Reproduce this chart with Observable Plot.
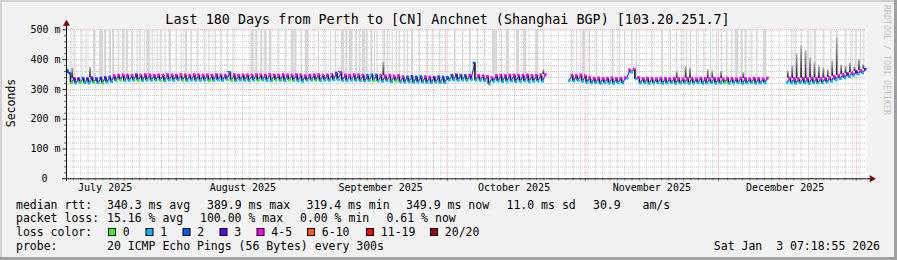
<!DOCTYPE html>
<html><head><meta charset="utf-8">
<script src="https://cdn.jsdelivr.net/npm/d3@7"></script>
<script src="https://cdn.jsdelivr.net/npm/@observablehq/plot@0.6"></script>
<style>
html,body{margin:0;padding:0;background:#f2f2f2;}
#chart{position:relative;width:897px;height:260px;}
svg text{white-space:pre;}
</style></head><body><div id="chart"></div>
<script>
// ---------------- data ----------------
const startTime = Date.UTC(2025, 6, 7, 7, 18, 55);
const endTime = Date.UTC(2026, 0, 3, 7, 18, 55);
const titleText = "Last 180 Days from Perth to [CN] Anchnet (Shanghai BGP) [103.20.251.7]";
const yTicks = [100, 200, 300, 400, 500];
const monthLabels = ["2025-07-16", "2025-08-16", "2025-09-16", "2025-10-16", "2025-11-16", "2025-12-16"];
const lossLabels = ["0", "1", "2", "3", "4-5", "6-10", "11-19", "20/20"];
const lossColors = ["#26ff00", "#00b8ff", "#0059ff", "#5e00ff", "#ff00ff", "#ff5e00", "#ff0000", "#a10000"];
const rttStats = ["340.3 ms avg", "389.9 ms max", "319.4 ms min", "349.9 ms now", "11.0 ms sd", "30.9", "am/s"];
const lossStats = ["15.16 % avg", "100.00 % max", "0.00 % min", "0.61 % now"];
const probeText = "20 ICMP Echo Pings (56 Bytes) every 300s";
const stampText = "Sat Jan  3 07:18:55 2026";

// median rtt per day (ms): value at start of day and at end of day
const dayLow = [
  362,322,321,323,322,321,323,322,321,324,
  326,330,331,329,330,331,330,329,331,330,
  331,330,329,331,330,332,330,329,331,330,
  330,331,329,330,331,330,333,330,329,331,
  330,329,331,330,332,330,329,331,330,329,
  331,330,329,327,330,331,330,329,331,330,
  332,333,330,329,331,330,329,328,330,329,
  328,327,329,326,328,325,324,325,323,324,
  324,323,322,324,323,322,331,332,330,331,
  330,333,331,330,329,318,327,328,326,327,
  328,326,327,328,326,327,328,327,null,null,
  null,null,null,329,328,330,327,323,321,322,
  320,322,321,320,322,321,338,358,335,321,
  322,320,321,322,320,321,322,320,321,322,
  320,321,322,320,321,322,320,321,322,320,
  321,322,320,321,322,320,321,322,null,null,
  null,null,322,321,320,322,321,320,322,321,
  322,324,327,332,336,338,343,347,351,355
];
const dayHigh = [
  354,337,336,338,336,339,337,338,340,342,
  346,348,349,348,347,349,348,350,349,348,
  349,348,350,349,348,350,349,348,350,349,
  348,349,348,350,349,348,357,350,348,349,
  349,348,350,349,348,350,349,348,350,349,
  348,350,349,346,348,349,350,348,349,350,
  355,357,349,348,350,349,348,347,349,348,
  347,346,348,345,347,343,342,344,342,343,
  343,342,341,343,342,341,348,349,348,347,
  348,389,347,346,344,340,347,348,347,348,
  348,347,348,349,347,348,349,350,null,null,
  null,null,null,348,347,349,346,340,338,339,
  337,338,339,337,338,339,366,368,340,337,
  338,337,336,338,337,336,338,337,336,338,
  337,336,338,337,336,338,337,336,338,337,
  336,338,337,336,338,337,336,338,null,null,
  null,null,338,337,336,338,337,339,338,337,
  338,340,344,347,350,353,356,360,364,368
];
// loss class (index into lossLabels) at the low and high point of each day
const lowLoss = [
  2,0,1,0,1,1,0,1,0,1, 1,1,0,1,1,1,0,1,1,1, 1,0,1,1,1,1,0,1,1,1,
  1,1,0,1,1,1,1,0,1,1, 1,1,1,0,1,1,1,0,1,1, 0,1,1,1,1,1,0,1,1,1,
  1,1,1,1,1,1,1,1,1,0, 1,1,1,1,0,1,1,1,1,1, 1,1,1,1,1,1,1,1,1,1,
  1,1,1,1,1,1,1,1,1,1, 1,1,1,1,1,1,1,1,1,1, 1,1,1,1,1,1,1,1,1,1,
  1,1,1,1,1,1,1,1,1,1, 1,1,1,1,1,1,1,1,1,1, 1,1,1,1,1,1,1,1,0,1,
  1,1,1,1,1,1,1,1,1,1, 1,1,1,1,1,1,1,1,1,1, 1,1,1,1,1,1,1,1,1,1
];
const highLoss = [
  2,3,3,2,3,3,2,3,3,2, 4,4,4,4,4,3,4,4,4,4, 4,4,4,4,4,4,4,4,4,4,
  4,4,4,4,4,4,2,4,4,4, 4,4,4,4,4,4,4,4,4,4, 4,4,4,4,4,4,4,4,4,4,
  2,4,4,4,4,4,4,2,2,2, 4,4,4,4,4,4,2,2,2,2, 4,4,3,2,2,2,2,3,2,2,
  4,2,4,4,4,4,4,4,4,4, 4,4,4,4,4,4,4,4,4,4, 4,4,4,4,4,4,4,4,4,4,
  4,4,4,4,4,4,4,4,4,4, 4,4,4,4,4,4,4,4,4,4, 4,4,4,4,4,4,4,4,4,4,
  4,4,4,4,4,4,4,4,4,4, 4,4,4,4,4,4,4,4,4,4, 4,4,4,4,4,3,4,3,4,3
];
// dark smoke tops (ms) on selected days
const smokeDay = [0,1,5,36,61,71,107,137,139,140,144,145,147,152,162,163,164,165,166,167,168,169,170,171,172,173,174,175,176,177,178,179];
const smokeTop = [368,371,374,360,362,391,366,360,377,372,366,362,360,356,362,378,419,446,430,405,390,377,372,366,394,472,381,377,388,375,400,383];
// light smoke reaching past 500 ms: day offset from start and duration (days)
const barDay = [
  1.1,2.0,3.6,4.5,6.3,7.9,8.8,9.9,10.6,11.9,12.8,13.7,14.9,16.0,16.7,17.6,18.5,19.4,20.5,21.2,
  22.3,23.4,24.8,25.9,27.0,28.2,29.5,31.1,32.2,33.6,34.9,36.3,37.6,
  41.9,42.8,43.9,44.8,45.9,47.7,49.3,50.9,51.6,52.9,54.1,
  56.8,58.3,59.5,60.6,
  62.2,63.1,64.0,65.3,66.0,66.9,67.6,68.7,69.4,70.0,71.6,72.3,73.4,74.3,75.0,76.1,76.8,77.9,79.5,81.3,82.4,84.0,85.4,
  87.4,89.2,90.8,92.6,94.1,96.2,96.8,98.0,99.3,101.6,103.2,105.9,107.4,
  113.7,114.9,116.4,117.8,119.4,120.7,123.0,124.5,125.7,127.3,128.4,131.8,134.2,136.0,137.4,138.5,139.6,140.5,141.9,143.5,145.0,146.4,147.5,148.6,149.8,150.9,152.0,152.9,154.3,155.4,157.2,
  163.3,164.2,165.5,166.9,167.6,168.5,170.5,172.1,173.4,175.5,176.6,177.7,178.8,179.5
];
const barSpan = [
  .25,.25,.25,.25,.45,.9,.45,.45,.45,.25,.45,.45,.45,.25,.25,.25,.7,.25,.25,.25,
  .25,.45,.25,.25,.45,.25,.25,.25,.25,.25,.25,.25,.25,
  .7,.45,.45,.7,.45,.25,.25,.7,.45,.25,.7,
  .25,.25,.25,.25,
  .7,.45,.7,.45,.25,.7,.45,.45,.25,.25,.45,.25,.25,.25,.25,.25,.25,.45,.25,.25,.25,.25,.25,
  .25,.25,.25,.25,.25,.7,.45,.25,.7,.7,.7,.7,.25,
  .25,.25,.7,.25,.25,.25,.45,.25,.25,.25,.25,.25,.25,.25,.25,.25,.25,.25,.25,.25,.25,.25,.25,.25,.25,.7,.45,.45,.25,.25,.7,
  .25,.25,.25,.25,.25,.45,.25,.25,.25,.25,.25,.25,.25,.25
];

// ---------------- derived ----------------
const dayMs = 86400000;
const xAt = d => new Date(startTime + d * dayMs);
const days = [];
for (let d = 0; d < dayLow.length; d++) {
  if (dayLow[d] == null) continue;
  days.push({d, low: dayLow[d], high: dayHigh[d], ll: lowLoss[d], hl: highLoss[d], next: dayLow[d + 1] ?? null});
}
const drops = days.filter(r => r.next != null);
const bars = barDay.map((d, i) => ({d, s: barSpan[i], bottom: (dayHigh[Math.floor(d)] ?? 345) + 2}));
const smoke = smokeDay.map((d, i) => ({d, top: smokeTop[i], base: dayHigh[d]}));
const monthStarts = d3.utcMonth.range(new Date(startTime), new Date(endTime));
const gridStep = 39.7 * 3600e3;
const aug1 = Date.UTC(2025, 7, 1);
const minorX = d3.range(-20, 120).map(i => new Date(aug1 + i * gridStep))
  .filter(t => t > startTime && t < endTime && monthStarts.every(m => Math.abs(m - t) > 0.6 * dayMs));
const minorY = d3.range(20, 500, 20).filter(v => v % 100 !== 0);
const monthMid = monthLabels.map(s => new Date(s + "T00:00:00Z"));

const plot = Plot.plot({
  width: 897, height: 260,
  marginLeft: 66, marginRight: 31, marginTop: 29.3, marginBottom: 81.7,
  x: {type: "utc", domain: [new Date(startTime), new Date(endTime)], axis: null},
  y: {domain: [0, 500], axis: null},
  style: {fontFamily: "'DejaVu Sans Mono', monospace", fontSize: "10px", background: "#f2f2f2", color: "#000", overflow: "visible"},
  marks: [
    Plot.frame({fill: "#ffffff", stroke: "none"}),
    Plot.ruleY(minorY, {stroke: "#c6c6c6", strokeDasharray: "1,1"}),
    Plot.ruleX(minorX, {y1: 0, y2: 500, stroke: "#c6c6c6", strokeDasharray: "1,1"}),
    Plot.ruleY(yTicks, {stroke: "#eea3a3", strokeDasharray: "1,1"}),
    Plot.ruleX(monthStarts, {y1: 0, y2: 500, stroke: "#eea3a3", strokeDasharray: "1,1"}),
    Plot.rect(bars, {x1: b => xAt(b.d - b.s / 2), x2: b => xAt(b.d + b.s / 2), y1: "bottom", y2: () => 500, fill: "#d6d6d6"}),
    Plot.rect(smoke, {x1: s => xAt(s.d + 0.2), x2: s => xAt(s.d + 0.6), y1: "base", y2: "top", fill: "url(#smokeGrad)"}),
    Plot.link(days, {x1: r => xAt(r.d), y1: "low", x2: r => xAt(r.d + 0.85), y2: "high", stroke: "#2a3cff", strokeWidth: 1.3}),
    Plot.link(drops, {x1: r => xAt(r.d + 0.9), x2: r => xAt(r.d + 0.9), y1: "high", y2: "next", stroke: "#111", strokeWidth: 1.6}),
    Plot.dot(days, {x: r => xAt(r.d + 0.15), y: "low", r: 1.5, symbol: "square", fill: r => lossColors[r.ll]}),
    Plot.dot(days, {x: r => xAt(r.d + 0.7), y: "high", r: 1.5, symbol: "square", fill: r => lossColors[r.hl]}),
    // axis ticks
    Plot.ruleY(minorY, {x1: () => xAt(-0.45), x2: () => xAt(0), stroke: "#666"}),
    Plot.ruleY(yTicks, {x1: () => xAt(-0.8), x2: () => xAt(0), stroke: "#333"}),
    Plot.ruleX(minorX, {y1: 0, y2: -7, stroke: "#999"}),
    Plot.ruleX(monthStarts, {y1: 0, y2: -9, stroke: "#d84848"}),
    // axis lines
    Plot.ruleY([0], {x1: () => xAt(-0.9), x2: () => xAt(181), stroke: "#111"}),
    Plot.ruleX([0], {x: () => xAt(0), y1: -9, y2: 521, stroke: "#111"}),
    Plot.dot([0], {x: () => xAt(0), y: () => 520, symbol: "triangle", r: 2.6, fill: "#800000"}),
    Plot.dot([0], {x: () => xAt(181.2), y: () => 0, symbol: "triangle", r: 2.6, rotate: 90, fill: "#800000"}),
    // labels
    Plot.text(yTicks, {x: () => xAt(0), y: v => v, text: v => `${v} m`, textAnchor: "end", dx: -6, fontSize: 10}),
    Plot.text([0], {x: () => xAt(0), y: v => v, text: () => "0", textAnchor: "end", dx: -19, fontSize: 10}),
    Plot.text(monthMid, {x: d => d, y: () => 0, text: d3.utcFormat("%B %Y"), dy: 9, fontSize: 10})
  ]
});

const svg = d3.select(plot);
const defs = svg.append("defs");
const grad = defs.append("linearGradient").attr("id", "smokeGrad")
  .attr("x1", 0).attr("y1", 1).attr("x2", 0).attr("y2", 0);
grad.append("stop").attr("offset", "0%").attr("stop-color", "#1e1e1e");
grad.append("stop").attr("offset", "40%").attr("stop-color", "#5a5a5a");
grad.append("stop").attr("offset", "100%").attr("stop-color", "#b4b4b4");

const font = "'DejaVu Sans Mono', monospace";
const txt = (x, y, s, size, anchor = "start") => svg.append("text")
  .attr("x", x).attr("y", y).attr("font-size", size).attr("font-family", font)
  .attr("text-anchor", anchor).attr("fill", "#000").attr("xml:space", "preserve").text(s);

txt(447.5, 24, titleText, "13.4px", "middle");
svg.append("text").attr("transform", "translate(15,103) rotate(-90)")
  .attr("font-size", "11.5px").attr("font-family", font).attr("text-anchor", "middle").text("Seconds");
svg.append("text").attr("transform", "translate(884,5) rotate(90)")
  .attr("font-size", "8.3px").attr("font-family", font).attr("text-anchor", "start")
  .attr("fill", "#c4c4c4").text("RRDTOOL / TOBI OETIKER");

const L = "11.5px";
txt(16, 208.5, "median rtt:", L);
[107, 207, 306.5, 406, 506.5, 593, 642.5].forEach((x, i) => txt(x, 208.5, rttStats[i], L));
txt(16, 222, "packet loss:", L);
[107, 200, 300, 386.5].forEach((x, i) => txt(x, 222, lossStats[i], L));
txt(16, 236, "loss color:", L);
[108, 145.5, 182.5, 219.5, 256.5, 307, 366, 430].forEach((x, i) => {
  svg.append("rect").attr("x", x + 0.5).attr("y", 228.5).attr("width", 7).attr("height", 7)
    .attr("fill", lossColors[i]).attr("stroke", "#000").attr("stroke-width", 1);
  txt(x + 14.8, 236, lossLabels[i], L);
});
txt(16, 250, "probe:", L);
txt(107, 250, probeText, L);
txt(880, 250, stampText, L, "end");

// 3D frame
svg.append("line").attr("x1", 0).attr("y1", 1).attr("x2", 897).attr("y2", 1).attr("stroke", "#d0d0d0").attr("stroke-width", 2);
svg.append("line").attr("x1", 1).attr("y1", 0).attr("x2", 1).attr("y2", 260).attr("stroke", "#d0d0d0").attr("stroke-width", 2);
svg.append("line").attr("x1", 0).attr("y1", 258.5).attr("x2", 897).attr("y2", 258.5).attr("stroke", "#a0a0a0").attr("stroke-width", 3);
svg.append("line").attr("x1", 895.5).attr("y1", 0).attr("x2", 895.5).attr("y2", 260).attr("stroke", "#a0a0a0").attr("stroke-width", 3);

document.getElementById("chart").appendChild(plot);
</script></body></html>
